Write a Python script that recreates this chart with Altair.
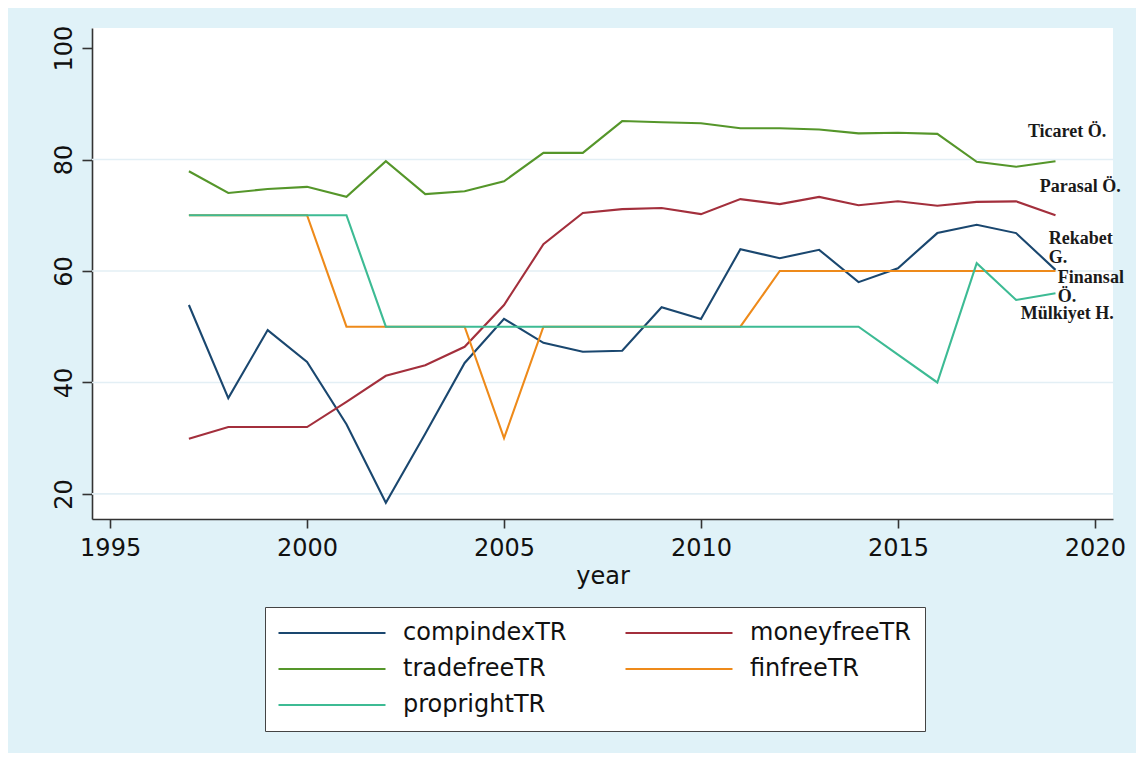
import altair as alt
import pandas as pd

years = list(range(1997, 2020))
compindexTR = [53.9, 37.2, 49.4, 43.7, 32.5, 18.4, 30.8, 43.5, 51.4, 47.1, 45.5, 45.7,
               53.5, 51.4, 63.9, 62.3, 63.8, 58.0, 60.5, 66.8, 68.3, 66.8, 60.2]
moneyfreeTR = [29.9, 32.0, 32.0, 32.0, 36.5, 41.2, 43.1, 46.4, 53.9, 64.8, 70.4, 71.1,
               71.3, 70.2, 72.9, 72.0, 73.3, 71.8, 72.5, 71.7, 72.4, 72.5, 70.0]
tradefreeTR = [77.9, 74.0, 74.7, 75.1, 73.3, 79.7, 73.8, 74.3, 76.1, 81.2, 81.2, 86.9,
               86.7, 86.5, 85.6, 85.6, 85.4, 84.7, 84.8, 84.6, 79.6, 78.7, 79.7]
finfreeTR = [70, 70, 70, 70, 50, 50, 50, 50, 30, 50, 50, 50,
             50, 50, 50, 60, 60, 60, 60, 60, 60, 60, 60]
proprightTR = [70, 70, 70, 70, 70, 50, 50, 50, 50, 50, 50, 50,
               50, 50, 50, 50, 50, 50, 45, 40, 61.4, 54.8, 56.0]

series_names = ["compindexTR", "moneyfreeTR", "tradefreeTR", "finfreeTR", "proprightTR"]
series_values = [compindexTR, moneyfreeTR, tradefreeTR, finfreeTR, proprightTR]
series_colors = ["#1a476f", "#a32f3c", "#55962a", "#ee8a1a", "#3dbb94"]

label_texts = ["Ticaret Ö.", "Parasal Ö.", "Rekabet", "G.", "Finansal", "Ö.", "Mülkiyet H."]
label_x = [2018.30, 2018.60, 2018.83, 2018.83, 2019.06, 2019.06, 2018.12]
label_y = [84.9, 75.1, 65.7, 62.3, 58.7, 55.3, 52.3]

grid_values = [20, 40, 60, 80]
x_ticks = [1995, 2000, 2005, 2010, 2015, 2020]
y_ticks = [20, 40, 60, 80, 100]

rows = []
for name, vals in zip(series_names, series_values):
    for yr, v in zip(years, vals):
        rows.append({"year": yr, "value": v, "series": name})
df = pd.DataFrame(rows)
labels_df = pd.DataFrame({"text": label_texts, "x": label_x, "y": label_y})
grid_df = pd.DataFrame({"g": grid_values})

xscale = alt.Scale(domain=[1994.54, 2020.46], nice=False, zero=False)
yscale = alt.Scale(domain=[15.5, 103.6], nice=False, zero=False)

grid = alt.Chart(grid_df).mark_rule(color="#e3eff5", strokeWidth=1.6).encode(
    y=alt.Y("g:Q", scale=yscale)
)

lines = alt.Chart(df).mark_line(strokeWidth=2.1).encode(
    x=alt.X("year:Q", scale=xscale, title="year",
            axis=alt.Axis(values=x_ticks, format="d", grid=False, tickSize=9,
                          labelFontSize=24, labelPadding=8, titleFontSize=24,
                          titlePadding=4, titleFontWeight="normal")),
    y=alt.Y("value:Q", scale=yscale, title=None,
            axis=alt.Axis(values=y_ticks, grid=False, tickSize=10, labelAngle=270,
                          labelAlign="center", labelBaseline="bottom",
                          labelFontSize=24, labelPadding=6)),
    color=alt.Color("series:N", scale=alt.Scale(domain=series_names, range=series_colors),
                    legend=alt.Legend(title=None, orient="none", legendX=173, legendY=579,
                                      columns=2, direction="horizontal",
                                      symbolType="M-6,0H6", symbolSize=318,
                                      symbolStrokeWidth=2, symbolOffset=41,
                                      labelFontSize=24, labelOffset=59, labelLimit=400,
                                      columnPadding=54, rowPadding=12,
                                      padding=14, fillColor="white", strokeColor="#444444",
                                      labelColor="#111111")),
)

texts = alt.Chart(labels_df).mark_text(
    align="left", baseline="middle", font="Liberation Serif", fontWeight="bold",
    fontSize=18, color="#1a1a1a"
).encode(
    x=alt.X("x:Q", scale=xscale),
    y=alt.Y("y:Q", scale=yscale),
    text="text:N",
)

chart = alt.layer(grid, lines, texts).properties(
    width=1021, height=491,
    autosize=alt.AutoSizeParams(type="none"),
    padding={"left": 84, "top": 20, "right": 23, "bottom": 234},
    background="#e0f2f8",
).configure_view(
    fill="white", stroke=None
).configure_axis(
    domainColor="#333333", domainWidth=1.6, tickColor="#333333", tickWidth=1.6,
    labelFont="DejaVu Sans", titleFont="DejaVu Sans",
    labelColor="#111111", titleColor="#111111"
).configure_legend(
    labelFont="DejaVu Sans"
)

chart.save("out.html", embed_options={"renderer": "svg", "actions": False})
